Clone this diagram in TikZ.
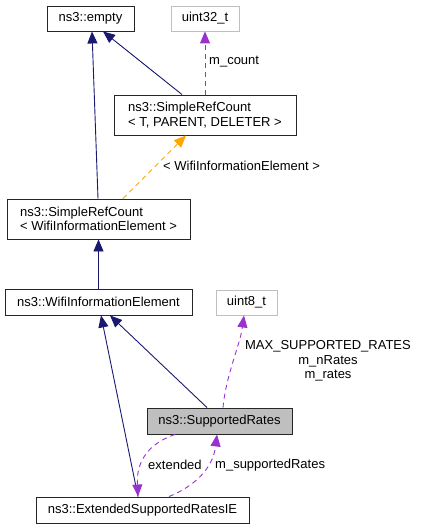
\documentclass[tikz,border=0pt]{standalone}
\usepackage{fontspec}
\setmainfont{Liberation Sans}
\usetikzlibrary{arrows.meta,calc}
\definecolor{navyedge}{HTML}{191970}
\definecolor{purp}{HTML}{9A32CD}
\definecolor{orng}{HTML}{FFA500}
\definecolor{boxgray}{HTML}{BFBFBF}
\begin{document}
\begin{tikzpicture}[x=1pt,y=-1pt, font=\fontsize{13}{14.5}\selectfont,
  cls/.style={draw=black!85, line width=0.9pt, inner sep=0pt, align=left},
  ext/.style={draw=boxgray, line width=0.9pt, inner sep=0pt},
  inh/.style={navyedge, line width=0.9pt, -{Triangle[length=12pt,width=10pt]}},
  use/.style={purp, line width=0.9pt, dash pattern=on 5pt off 4pt, -{Triangle[length=12pt,width=10pt]}},
  tmpl/.style={orng, line width=0.9pt, dash pattern=on 5pt off 4pt, -{Triangle[length=12pt,width=10pt]}},
  lbl/.style={inner sep=0pt, align=center}]
\useasboundingbox (0,0) rectangle (420,529);
\node[cls, minimum width=87pt, minimum height=25pt] (empty) at (90.5,18.5) {ns3::empty};
\node[ext, minimum width=68pt, minimum height=25pt] (u32) at (205,18.5) {uint32\_t};
\node[cls, minimum width=182pt, minimum height=40pt] (srct) at (205,115) {ns3::SimpleRefCount\\< T, PARENT, DELETER >};
\node[cls, minimum width=183pt, minimum height=40pt] (srcw) at (98.5,219) {ns3::SimpleRefCount\\< WifiInformationElement >};
\node[cls, minimum width=187pt, minimum height=26pt] (wie) at (98.5,302) {ns3::WifiInformationElement};
\node[ext, minimum width=61pt, minimum height=25pt] (u8) at (246.5,302.5) {uint8\_t};
\node[cls, fill=boxgray, minimum width=145pt, minimum height=26pt] (sr) at (219.5,421) {ns3::SupportedRates};
\node[cls, minimum width=213pt, minimum height=26pt] (esr) at (142.5,510) {ns3::ExtendedSupportedRatesIE};
% inheritance
\draw[inh] ([xshift=-23pt]srct.north) -- ([xshift=12.5pt]empty.south);
\draw[inh] ([xshift=-0.5pt]srcw.north) -- ([xshift=1.5pt]empty.south);
\draw[inh] (wie.north) -- (srcw.south);
\draw[inh] ([xshift=-4.5pt]esr.north) -- ([xshift=2.5pt]wie.south);
\draw[inh] ([xshift=-12.5pt]sr.north) -- ([xshift=11.5pt]wie.south);
% template
\draw[tmpl] ([xshift=24.5pt]srcw.north) -- ([xshift=-19pt]srct.south);
\node[lbl, anchor=west] (ltmpl) at (163,166) {< WifiInformationElement >};
% usage
\draw[use] (srct.north) -- (u32.south);
\node[lbl, anchor=west] (lcount) at (209,62) {m\_count};
\draw[use] ([xshift=3.5pt]sr.north) .. controls (226,375) and (240,345) .. ([xshift=-2.5pt]u8.south);
\node[lbl] (lrates) at (328,361) {MAX\_SUPPORTED\_RATES\\m\_nRates\\m\_rates};
\draw[use] ([xshift=-44.5pt]sr.south) .. controls (150,443) and (136,460) .. ([xshift=-4.5pt]esr.north);
\node[lbl, anchor=west] (lext) at (148,465) {extended};
\draw[use] ([xshift=26.5pt]esr.north) .. controls (195,486) and (213,468) .. ([xshift=-2.5pt]sr.south);
\node[lbl, anchor=west] (lsup) at (215,465) {m\_supportedRates};
\end{tikzpicture}
\end{document}
